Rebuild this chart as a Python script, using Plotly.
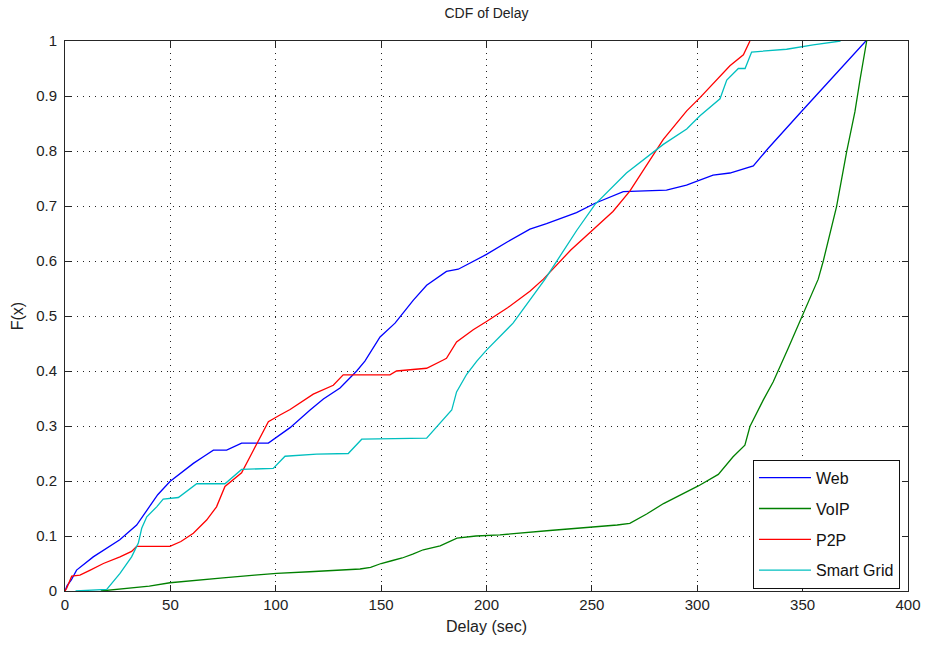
import plotly.graph_objects as go

# ---- data ----
web_x = [0, 1, 3, 5.5, 13.4, 20, 26, 34, 38.8, 44, 49.8, 55, 60.9, 66, 70.4, 76.7, 83.8, 96.5,
         106.8, 116.3, 122.6, 130.5, 138.4, 142.3, 149.5, 156.6, 165.3, 171.6, 181, 186.6, 200,
         210, 220.6, 228.5, 242.7, 251.5, 264.9, 285.4, 294.9, 307.5, 315.5, 326.6, 333.7,
         348.8, 364.6, 380]
web_y = [0, 0.01, 0.02, 0.038, 0.062, 0.078, 0.093, 0.12, 0.147, 0.175, 0.199, 0.215, 0.232,
         0.245, 0.256, 0.256, 0.269, 0.269, 0.297, 0.329, 0.349, 0.369, 0.4, 0.418, 0.462, 0.487,
         0.529, 0.556, 0.581, 0.585, 0.612, 0.635, 0.658, 0.668, 0.688, 0.705, 0.726, 0.729,
         0.738, 0.756, 0.76, 0.773, 0.805, 0.869, 0.935, 1.0]

voip_x = [17, 30, 40, 49.8, 60, 75, 90, 100.4, 116, 130, 140, 145, 150, 155, 160, 165, 170, 178,
          183, 186, 195, 206.4, 230, 250.7, 262, 268, 276, 284, 300.5, 310, 317, 322.6, 325,
          331.3, 336, 343, 349.7, 357.4, 359.8, 366.1, 370.9, 374.8, 377.2, 380.4]
voip_y = [0, 0.005, 0.009, 0.015, 0.019, 0.024, 0.029, 0.032, 0.035, 0.038, 0.04, 0.043, 0.05,
          0.055, 0.06, 0.067, 0.075, 0.082, 0.09, 0.096, 0.1, 0.102, 0.11, 0.116, 0.12, 0.123,
          0.14, 0.159, 0.191, 0.212, 0.244, 0.265, 0.299, 0.347, 0.38, 0.44, 0.5, 0.567, 0.6,
          0.699, 0.799, 0.871, 0.929, 1.0]

p2p_x = [0, 0.8, 3.2, 7.1, 12, 18.2, 26.1, 31.6, 34, 49.8, 55, 60.9, 67.2, 71.9, 75.9, 83.8,
         89.4, 96.5, 102, 106.8, 117.8, 127.3, 132, 154.2, 157.3, 171.6, 179.5, 181, 185.8,
         193.7, 200, 210, 220.6, 227, 240, 250.7, 260, 268, 276, 283.9, 295, 301.3, 315.5,
         321.9, 325]
p2p_y = [0, 0.005, 0.027, 0.029, 0.038, 0.05, 0.062, 0.072, 0.081, 0.081, 0.09, 0.105, 0.129,
         0.153, 0.19, 0.215, 0.256, 0.308, 0.32, 0.33, 0.358, 0.374, 0.393, 0.393, 0.4, 0.405,
         0.42, 0.423, 0.453, 0.475, 0.49, 0.515, 0.545, 0.567, 0.62, 0.658, 0.69, 0.727, 0.775,
         0.821, 0.873, 0.897, 0.955, 0.975, 1.0]

sg_x = [5, 19.8, 26.1, 31.6, 34.8, 36.4, 38.8, 43.5, 46.6, 53.8, 62.5, 75.9, 83.8, 98.8, 104.4,
        119.4, 134.4, 140.8, 171.6, 181, 183.5, 185.8, 190.6, 195.4, 200, 212.6, 220.6, 227.8,
        242.7, 251.5, 266.4, 283.9, 295, 301.3, 310.8, 314, 319.5, 322.7, 325.8, 342.4, 355,
        361.4, 368]
sg_y = [0, 0.003, 0.032, 0.062, 0.087, 0.114, 0.135, 0.153, 0.167, 0.17, 0.195, 0.195, 0.221,
        0.223, 0.245, 0.249, 0.25, 0.276, 0.278, 0.317, 0.329, 0.362, 0.394, 0.418, 0.438,
        0.487, 0.529, 0.567, 0.655, 0.703, 0.76, 0.812, 0.84, 0.864, 0.895, 0.929, 0.95, 0.95,
        0.98, 0.985, 0.993, 0.996, 1.0]

series_names = ["Web", "VoIP", "P2P", "Smart Grid"]
series_colors = ["#0000ff", "#008000", "#ff0000", "#00bfbf"]
series_x = [web_x, voip_x, p2p_x, sg_x]
series_y = [web_y, voip_y, p2p_y, sg_y]

x_ticks = [0, 50, 100, 150, 200, 250, 300, 350, 400]
y_ticks = [0, 0.1, 0.2, 0.3, 0.4, 0.5, 0.6, 0.7, 0.8, 0.9, 1]
y_tick_text = ["0", "0.1", "0.2", "0.3", "0.4", "0.5", "0.6", "0.7", "0.8", "0.9", "1"]

FONT = "Liberation Sans"
TXT = "#222222"

fig = go.Figure()
for name, color, xs, ys in zip(series_names, series_colors, series_x, series_y):
    fig.add_trace(go.Scatter(x=xs, y=ys, mode="lines", name=name,
                             legendgroup=name,
                             line=dict(color=color, width=1.3)))

axis_common = dict(
    showline=True, linecolor="#262626", linewidth=1, mirror="all",
    ticks="inside", ticklen=6, tickcolor="#262626", tickwidth=1,
    showgrid=True, gridcolor="#222222", griddash="1px,5px", gridwidth=1,
    zeroline=False, automargin=False,
    tickfont=dict(family=FONT, size=15, color=TXT),
)

fig.update_xaxes(range=[0, 400], tickvals=x_ticks, ticktext=[str(v) for v in x_ticks],
                 title=dict(text="Delay (sec)", font=dict(family=FONT, size=16, color=TXT),
                            standoff=8),
                 **axis_common)
fig.update_yaxes(range=[0, 1], tickvals=y_ticks, ticktext=y_tick_text,
                 title=dict(text="F(x)", font=dict(family=FONT, size=16, color=TXT),
                            standoff=8),
                 ticklabelstandoff=4,
                 **axis_common)

fig.update_layout(
    width=926, height=646,
    paper_bgcolor="white", plot_bgcolor="white",
    margin=dict(l=65, r=18, t=41, b=55),
    title=dict(text="CDF of Delay", x=0.5, xanchor="center", xref="paper",
               y=1 - 13 / 646, yanchor="middle", yref="container",
               font=dict(family=FONT, size=14, color=TXT)),
    legend=dict(x=0.9905, xanchor="right", y=0.004, yanchor="bottom",
                bgcolor="white", bordercolor="#111111", borderwidth=1,
                font=dict(family=FONT, size=16, color="#111111"),
                traceorder="grouped", tracegroupgap=7, itemwidth=52),
    showlegend=True,
)

fig.write_html("out.html", config={"displayModeBar": False},
               post_script="document.body.style.margin='0';document.body.style.overflow='hidden';")
